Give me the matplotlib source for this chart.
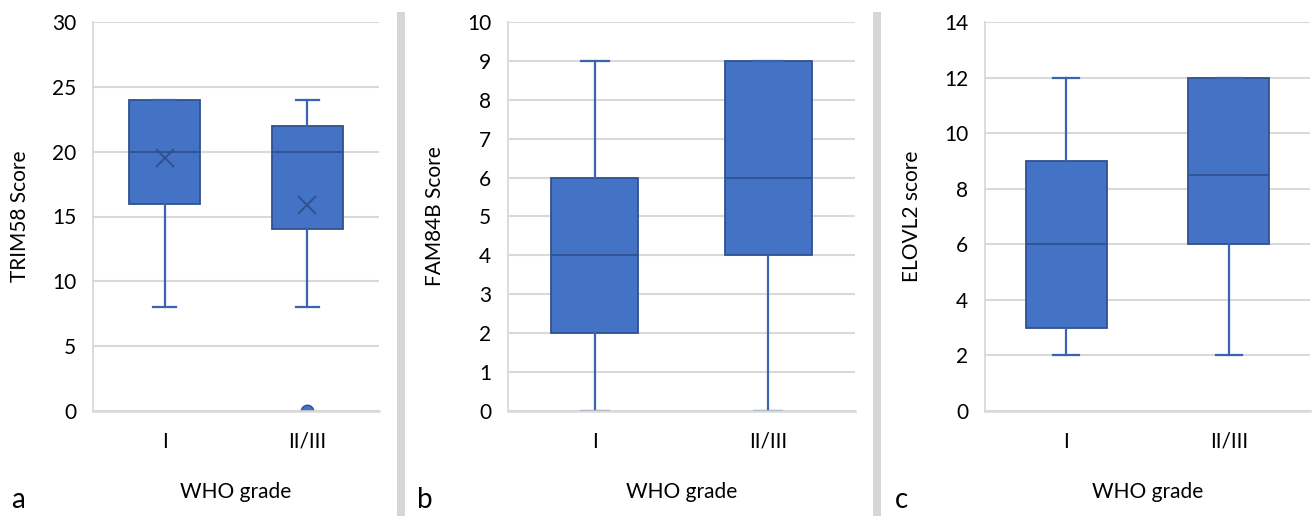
import matplotlib
matplotlib.use("Agg")
import matplotlib.pyplot as plt
from matplotlib.patches import Rectangle

plt.rcParams["font.family"] = ["Lato", "DejaVu Sans"]

groups = ["I", "II/III"]

# per panel: whisker low, q1, median, q3, whisker high, mean (None = not shown)
trim58_low = [8, 8]
trim58_q1 = [16, 14]
trim58_med = [20, 20]
trim58_q3 = [24, 22]
trim58_high = [24, 24]
trim58_mean = [19.5, 15.9]
trim58_fliers = [[], [0]]

fam84b_low = [0, 0]
fam84b_q1 = [2, 4]
fam84b_med = [4, 6]
fam84b_q3 = [6, 9]
fam84b_high = [9, 9]

elovl2_low = [2, 2]
elovl2_q1 = [3, 6]
elovl2_med = [6, 8.5]
elovl2_q3 = [9, 12]
elovl2_high = [12, 12]

BLUE = "#4472C4"
EDGE = "#2F528F"
GRID = "#d9d9d9"

W, H = 1313, 516


def stats(low, q1, med, q3, high, mean=None, fliers=None):
    out = []
    for i in range(len(low)):
        s = {"whislo": low[i], "q1": q1[i], "med": med[i], "q3": q3[i],
             "whishi": high[i], "fliers": fliers[i] if fliers else []}
        if mean is not None:
            s["mean"] = mean[i]
        out.append(s)
    return out


def panel(rect_px, st, ymax, ystep, ylabel, letter, letter_x, show_mean=False):
    l, r, t, b = rect_px
    ax = fig.add_axes([l / W, (H - b) / H, (r - l) / W, (b - t) / H])
    art = ax.bxp(st, positions=[1, 2], widths=0.5, capwidths=0.16,
                 patch_artist=True, showmeans=show_mean, meanline=False,
                 boxprops=dict(facecolor=BLUE, edgecolor=EDGE, linewidth=1.3),
                 medianprops=dict(color=EDGE, linewidth=1.3),
                 whiskerprops=dict(color="#3a63b0", linewidth=1.6),
                 capprops=dict(color="#3a63b0", linewidth=1.6),
                 meanprops=dict(marker="x", markeredgecolor=EDGE, markersize=13,
                                markeredgewidth=1.4),
                 flierprops=dict(marker="o", markerfacecolor=BLUE,
                                 markeredgecolor=EDGE, markersize=9))
    for fl in art["fliers"]:
        fl.set_zorder(2)
    ax.set_xlim(0.5, 2.5)
    ax.set_ylim(0, ymax)
    ax.set_yticks(range(0, ymax + 1, ystep))
    ax.set_xticks([1, 2], groups)
    ax.yaxis.grid(True, color=GRID, linewidth=1.5, zorder=0)
    ax.axhline(0, color=GRID, linewidth=1.8, zorder=10, clip_on=False)
    ax.set_axisbelow(True)
    for s in ["top", "right", "bottom"]:
        ax.spines[s].set_visible(False)
    ax.spines["left"].set_color(GRID)
    ax.spines["left"].set_linewidth(1.3)
    ax.tick_params(axis="both", length=0, labelsize=15, colors="black")
    ax.tick_params(axis="y", pad=12)
    ax.tick_params(axis="x", pad=15)
    ax.set_ylabel(ylabel, fontsize=15)
    ax.yaxis.label.set_va("center")
    ax.yaxis.set_label_coords(-73 / (r - l), 0.5)
    ax.set_xlabel("WHO grade", fontsize=15)
    ax.xaxis.set_label_coords(0.5, -81 / (b - t))
    ax.xaxis.label.set_va("center")
    fig.text(letter_x / W, (H - 500) / H, letter, fontsize=20, ha="center",
             va="center")
    return ax


fig = plt.figure(figsize=(W / 100, H / 100), dpi=100)

panel((93, 379, 22, 411),
      stats(trim58_low, trim58_q1, trim58_med, trim58_q3, trim58_high,
            trim58_mean, trim58_fliers),
      30, 5, "TRIM58 Score", "a", 18, show_mean=True)
panel((508, 855, 22, 411),
      stats(fam84b_low, fam84b_q1, fam84b_med, fam84b_q3, fam84b_high),
      10, 1, "FAM84B Score", "b", 425)
panel((985, 1310, 22, 411),
      stats(elovl2_low, elovl2_q1, elovl2_med, elovl2_q3, elovl2_high),
      14, 2, "ELOVL2 score", "c", 902)

# grey separator bars between panels
for x0 in (397, 873):
    fig.add_artist(Rectangle((x0 / W, 0), 8 / W, (H - 12) / H,
                             transform=fig.transFigure, color="#d6d6d6", lw=0))

fig.savefig("out.png", dpi=100)
